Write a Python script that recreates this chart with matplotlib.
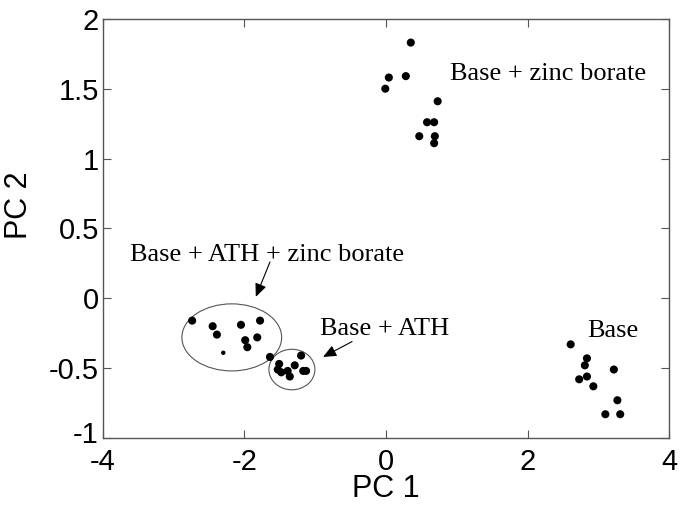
import matplotlib
matplotlib.use("Agg")
import matplotlib.pyplot as plt
import matplotlib.transforms as mtransforms
from matplotlib.patches import Ellipse

# Data
zb_x = [0.35, 0.04, -0.01, 0.28, 0.73, 0.58, 0.68, 0.47, 0.69, 0.68]
zb_y = [1.83, 1.58, 1.50, 1.59, 1.41, 1.26, 1.26, 1.16, 1.16, 1.11]

athzb_x = [-2.74, -2.45, -2.39, -2.05, -1.78, -1.82, -1.99, -1.96, -1.64]
athzb_y = [-0.16, -0.20, -0.26, -0.19, -0.16, -0.28, -0.30, -0.35, -0.42]
athzb_small_x = [-2.30]
athzb_small_y = [-0.39]

ath_x = [-1.20, -1.51, -1.53, -1.48, -1.29, -1.36, -1.39, -1.17, -1.13]
ath_y = [-0.41, -0.47, -0.51, -0.53, -0.48, -0.56, -0.52, -0.52, -0.52]

base_x = [2.61, 2.84, 2.81, 2.84, 2.73, 2.93, 3.22, 3.27, 3.10, 3.31]
base_y = [-0.33, -0.43, -0.48, -0.56, -0.58, -0.63, -0.51, -0.73, -0.83, -0.83]

xticks = [-4, -2, 0, 2, 4]
yticks = [-1, -0.5, 0, 0.5, 1, 1.5, 2]
yticklabels = ["-1", "-0.5", "0", "0.5", "1", "1.5", "2"]

fig = plt.figure(figsize=(6.82, 5.05), dpi=100)
ax = fig.add_axes([0.151, 0.1327, 0.830, 0.830])

ms = 34
for xs, ys in [(zb_x, zb_y), (athzb_x, athzb_y), (ath_x, ath_y), (base_x, base_y)]:
    ax.scatter(xs, ys, s=ms, c="black", edgecolors="none", zorder=3)
ax.scatter(athzb_small_x, athzb_small_y, s=10, c="black", marker="o", edgecolors="none", zorder=3)

ax.add_patch(Ellipse((-2.18, -0.28), 1.41, 0.48, fill=False, edgecolor="#555555", lw=0.8))
ax.add_patch(Ellipse((-1.33, -0.51), 0.65, 0.29, fill=False, edgecolor="#555555", lw=0.8))

tfont = dict(family="Liberation Serif", fontsize=19, color="black")
ax.text(0.90, 1.56, "Base + zinc borate", va="baseline", ha="left", **tfont)
ax.text(-3.62, 0.27, "Base + ATH + zinc borate", va="baseline", ha="left", **tfont)
ax.text(-0.93, -0.26, "Base + ATH", va="baseline", ha="left", **tfont)
ax.text(2.84, -0.28, "Base", va="baseline", ha="left", **tfont)

aprops = dict(arrowstyle="-|>,head_length=0.8,head_width=0.35", color="black", lw=0.8,
              shrinkA=0, shrinkB=0)
ax.annotate("", xy=(-1.84, 0.01), xytext=(-1.64, 0.26), arrowprops=aprops)
ax.annotate("", xy=(-0.89, -0.42), xytext=(-0.48, -0.31), arrowprops=aprops)

ax.set_xlim(-4, 4)
ax.set_ylim(-1, 2)
ax.set_xticks(xticks)
ax.set_xticklabels([str(t) for t in xticks])
ax.set_yticks(yticks)
ax.set_yticklabels(yticklabels)

for s in ax.spines.values():
    s.set_color("#555555")
    s.set_linewidth(1.0)
ax.tick_params(direction="in", length=6, width=0.8, color="#555555",
               top=True, right=True, labelsize=21)
ax.tick_params(axis="x", pad=7)
ax.tick_params(axis="y", pad=3)
for lab in ax.get_xticklabels() + ax.get_yticklabels():
    lab.set_family("Liberation Sans")

# nudge the lowest y label up slightly so it does not collide with "-4"
low = ax.get_yticklabels()[0]
low.set_transform(low.get_transform() + mtransforms.ScaledTranslation(0, 4 / 72, fig.dpi_scale_trans))

ax.set_xlabel("PC 1", fontsize=22, family="Liberation Sans")
ax.set_ylabel("PC 2", fontsize=22, family="Liberation Sans")
ax.xaxis.set_label_coords(0.50, -0.122)
ax.yaxis.set_label_coords(-0.148, 0.556)
ax.xaxis.label.set_va("center")
ax.yaxis.label.set_va("center")

fig.savefig("out.png", dpi=100)
